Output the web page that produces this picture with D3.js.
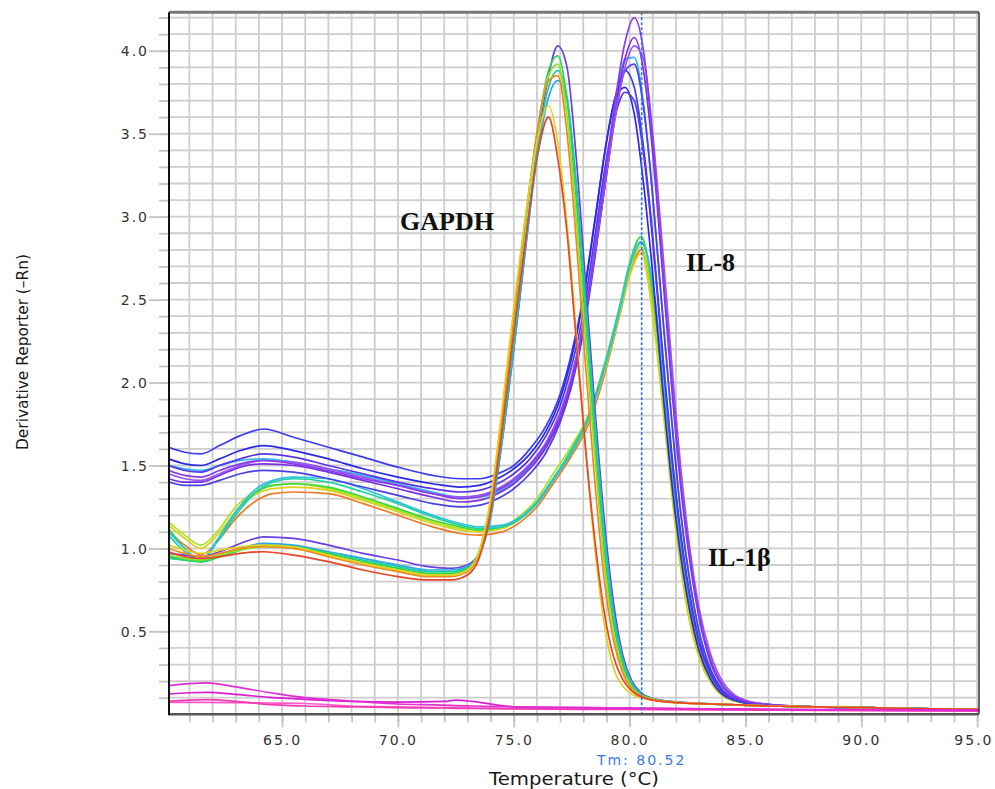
<!DOCTYPE html>
<html><head><meta charset="utf-8">
<script src="https://cdn.jsdelivr.net/npm/d3@7"></script>
<style>body{margin:0;background:#fff;} svg{display:block;}</style>
</head><body>
<svg id="chart" width="995" height="789"></svg>
<script>
// ---------- DATA ----------
const gapdhTemps = [60.1,60.8,61.5,62.3,63.2,64.2,65.5,67.0,68.5,70.0,71.3,72.3,73.0,73.5,74.0,74.5,75.0,75.5,76.0,76.5,76.9,77.3,77.7,78.1,78.5,78.9,79.3,79.7,80.1,80.5,81.0,82.0,84.0,86.0,88.0,90.0,92.0,95.1];
const gapdhRed    = [0.98,0.95,0.94,0.95,0.97,0.98,0.96,0.92,0.87,0.83,0.81,0.81,0.84,0.94,1.22,1.72,2.30,2.85,3.35,3.60,3.35,2.90,2.25,1.60,1.05,0.62,0.35,0.21,0.14,0.105,0.085,0.07,0.06,0.05,0.045,0.04,0.035,0.03];
const gapdhOrange = [1.00,0.97,0.95,0.97,1.00,1.01,1.00,0.95,0.90,0.86,0.83,0.83,0.86,0.97,1.28,1.80,2.40,2.98,3.50,3.82,3.85,3.50,2.85,2.10,1.40,0.82,0.45,0.25,0.15,0.11,0.088,0.072,0.06,0.05,0.045,0.04,0.035,0.03];
const gapdhYellow = [1.02,0.99,0.97,0.99,1.01,1.02,1.01,0.96,0.91,0.87,0.84,0.84,0.87,0.98,1.30,1.85,2.45,3.00,3.45,3.67,3.45,2.95,2.30,1.60,1.00,0.55,0.28,0.17,0.12,0.10,0.085,0.07,0.06,0.05,0.045,0.04,0.035,0.03];
const gapdhLime   = [0.96,0.94,0.93,0.96,0.99,1.01,1.00,0.96,0.91,0.87,0.84,0.84,0.87,0.97,1.26,1.78,2.38,2.97,3.50,3.85,3.92,3.60,2.98,2.25,1.55,0.92,0.50,0.27,0.16,0.115,0.09,0.072,0.06,0.05,0.045,0.04,0.035,0.03];
const gapdhGreen  = [0.95,0.93,0.92,0.95,0.99,1.02,1.01,0.97,0.92,0.88,0.85,0.85,0.88,0.98,1.25,1.75,2.35,2.95,3.50,3.88,3.97,3.70,3.10,2.38,1.65,1.00,0.55,0.30,0.17,0.12,0.09,0.072,0.06,0.05,0.045,0.04,0.035,0.03];
const gapdhTeal   = [0.94,0.93,0.92,0.95,0.99,1.02,1.01,0.97,0.93,0.89,0.86,0.86,0.88,0.96,1.20,1.68,2.25,2.85,3.40,3.78,3.88,3.72,3.18,2.45,1.72,1.08,0.60,0.32,0.18,0.12,0.092,0.073,0.06,0.05,0.045,0.04,0.035,0.03];
const gapdhCyan   = [0.95,0.94,0.93,0.96,1.00,1.03,1.02,0.98,0.94,0.90,0.87,0.87,0.89,0.96,1.18,1.65,2.20,2.80,3.35,3.72,3.82,3.70,3.20,2.50,1.78,1.12,0.63,0.34,0.19,0.125,0.093,0.074,0.06,0.05,0.045,0.04,0.035,0.03];
const gapdhPurple = [0.97,0.96,0.95,0.98,1.03,1.07,1.06,1.02,0.97,0.93,0.89,0.88,0.90,0.97,1.20,1.65,2.20,2.80,3.40,3.85,4.03,3.90,3.35,2.60,1.85,1.18,0.68,0.36,0.20,0.13,0.095,0.075,0.06,0.05,0.045,0.04,0.035,0.03];

const il8Temps = [60.1,60.8,61.5,62.3,63.2,64.2,65.5,67.0,68.5,70.0,71.5,72.7,73.5,74.3,75.0,75.7,76.4,77.0,77.5,78.0,78.5,79.0,79.4,79.8,80.2,80.6,81.0,81.4,81.8,82.2,82.6,83.0,83.5,84.0,84.5,85.0,86.0,88.0,90.0,92.0,95.1];
const il8A = [1.61,1.58,1.57,1.62,1.68,1.72,1.67,1.61,1.55,1.49,1.44,1.42,1.42,1.45,1.50,1.60,1.74,1.93,2.18,2.52,2.98,3.45,3.73,3.88,3.78,3.42,2.88,2.22,1.60,1.10,0.72,0.45,0.25,0.14,0.09,0.07,0.055,0.045,0.04,0.035,0.03];
const il8B = [1.54,1.51,1.50,1.54,1.59,1.62,1.59,1.54,1.48,1.43,1.39,1.37,1.38,1.42,1.48,1.57,1.71,1.90,2.15,2.50,2.97,3.45,3.72,3.78,3.62,3.20,2.65,2.00,1.42,0.96,0.62,0.38,0.21,0.12,0.085,0.068,0.055,0.045,0.04,0.035,0.03];
const il8C = [1.50,1.47,1.46,1.50,1.54,1.57,1.55,1.50,1.45,1.40,1.36,1.34,1.35,1.39,1.45,1.54,1.68,1.86,2.10,2.42,2.88,3.35,3.62,3.75,3.70,3.38,2.85,2.20,1.58,1.08,0.70,0.43,0.24,0.135,0.09,0.07,0.055,0.045,0.04,0.035,0.03];
const il8D = [1.47,1.44,1.43,1.47,1.51,1.53,1.51,1.47,1.42,1.38,1.33,1.30,1.31,1.35,1.41,1.50,1.63,1.80,2.02,2.35,2.80,3.30,3.72,4.05,4.20,4.00,3.45,2.75,2.05,1.42,0.95,0.60,0.33,0.18,0.11,0.08,0.06,0.045,0.04,0.035,0.03];
const il8E = [1.42,1.40,1.40,1.44,1.49,1.51,1.50,1.46,1.41,1.36,1.31,1.28,1.29,1.33,1.39,1.48,1.61,1.78,2.00,2.32,2.77,3.25,3.65,3.95,4.08,3.88,3.38,2.70,2.00,1.38,0.92,0.58,0.31,0.17,0.105,0.078,0.058,0.045,0.04,0.035,0.03];
const il8F = [1.45,1.42,1.41,1.45,1.50,1.53,1.52,1.48,1.43,1.38,1.33,1.31,1.32,1.36,1.42,1.51,1.64,1.82,2.04,2.35,2.78,3.25,3.62,3.90,4.03,3.95,3.50,2.85,2.15,1.50,1.00,0.64,0.36,0.20,0.12,0.085,0.06,0.045,0.04,0.035,0.03];
const il8G = [1.50,1.48,1.47,1.50,1.53,1.54,1.52,1.48,1.44,1.39,1.34,1.31,1.31,1.34,1.40,1.49,1.62,1.80,2.03,2.36,2.82,3.32,3.70,3.95,3.96,3.68,3.12,2.45,1.80,1.22,0.80,0.50,0.27,0.15,0.095,0.072,0.055,0.045,0.04,0.035,0.03];
const il8H = [1.40,1.38,1.38,1.41,1.45,1.47,1.46,1.42,1.37,1.32,1.27,1.25,1.26,1.30,1.36,1.45,1.58,1.76,1.98,2.30,2.75,3.25,3.62,3.88,3.92,3.66,3.12,2.45,1.80,1.22,0.80,0.50,0.27,0.15,0.095,0.072,0.055,0.045,0.04,0.035,0.03];

const il1bTemps = [60.1,60.8,61.5,62.2,63.0,63.8,64.6,65.5,67.0,68.5,70.0,71.5,72.7,73.5,74.5,75.3,76.0,76.7,77.5,78.2,78.9,79.6,80.0,80.5,81.0,81.5,82.0,82.5,83.0,83.5,84.0,84.5,85.0,86.0,88.0,90.0,92.0,95.1];
const il1bGreen  = [1.12,1.00,0.92,1.05,1.22,1.33,1.38,1.39,1.37,1.31,1.24,1.17,1.13,1.11,1.13,1.19,1.28,1.42,1.60,1.79,2.10,2.48,2.72,2.88,2.55,1.92,1.25,0.74,0.42,0.23,0.13,0.09,0.07,0.055,0.045,0.04,0.035,0.03];
const il1bLime   = [1.16,1.08,1.02,1.10,1.25,1.34,1.38,1.39,1.36,1.30,1.23,1.16,1.12,1.11,1.13,1.20,1.30,1.45,1.62,1.80,2.10,2.46,2.68,2.82,2.45,1.80,1.15,0.66,0.37,0.20,0.12,0.085,0.068,0.055,0.045,0.04,0.035,0.03];
const il1bYellow = [1.14,1.06,1.00,1.08,1.22,1.32,1.36,1.37,1.35,1.29,1.22,1.15,1.11,1.10,1.12,1.18,1.28,1.42,1.58,1.76,2.06,2.42,2.64,2.78,2.40,1.75,1.10,0.62,0.34,0.19,0.11,0.08,0.065,0.055,0.045,0.04,0.035,0.03];
const il1bOrange = [1.10,1.02,0.96,1.04,1.18,1.28,1.33,1.34,1.33,1.27,1.20,1.13,1.09,1.08,1.10,1.16,1.25,1.39,1.56,1.74,2.04,2.42,2.65,2.80,2.50,1.88,1.22,0.72,0.40,0.22,0.125,0.088,0.068,0.055,0.045,0.04,0.035,0.03];
const il1bCyan   = [1.10,1.00,0.93,1.05,1.22,1.35,1.41,1.43,1.42,1.36,1.28,1.20,1.15,1.13,1.14,1.19,1.28,1.42,1.59,1.78,2.08,2.46,2.70,2.85,2.60,1.98,1.30,0.78,0.44,0.24,0.135,0.095,0.072,0.055,0.045,0.04,0.035,0.03];
const il1bTeal   = [1.08,0.98,0.92,1.04,1.20,1.33,1.40,1.42,1.40,1.34,1.27,1.19,1.14,1.12,1.13,1.18,1.27,1.41,1.58,1.77,2.08,2.45,2.70,2.84,2.58,1.95,1.28,0.76,0.43,0.24,0.13,0.092,0.07,0.055,0.045,0.04,0.035,0.03];

const ntcTemps = [60.1,61.0,61.8,63.0,64.5,66.0,68.0,70.0,72.0,72.5,73.2,75.0,78.0,82.0,86.0,90.0,95.1];
const ntcA = [0.172,0.185,0.19,0.165,0.13,0.10,0.08,0.062,0.055,0.052,0.05,0.045,0.04,0.035,0.03,0.025,0.02];
const ntcB = [0.122,0.13,0.132,0.12,0.102,0.09,0.078,0.074,0.078,0.085,0.078,0.045,0.04,0.035,0.03,0.028,0.025];
const ntcC = [0.078,0.085,0.088,0.078,0.058,0.05,0.045,0.04,0.038,0.036,0.035,0.033,0.03,0.028,0.025,0.022,0.02];
const ntcD = [0.074,0.072,0.072,0.07,0.068,0.065,0.05,0.045,0.04,0.04,0.038,0.035,0.032,0.03,0.027,0.025,0.022];

const xTickValues = [65,70,75,80,85,90,95];
const xTickLabels = ["65.0","70.0","75.0","80.0","85.0","90.0","95.0"];
const yTickValues = [0.5,1.0,1.5,2.0,2.5,3.0,3.5,4.0];
const yTickLabels = ["0.5","1.0","1.5","2.0","2.5","3.0","3.5","4.0"];
const tmValue = 80.52;
const tmLabel = "Tm: 80.52";
const xTitle = "Temperature (°C)";
const yTitle = "Derivative Reporter (\u2013Rn)";
const targetLabels = ["GAPDH","IL-8","IL-1\u03b2"];

// ---------- SERIES TABLE ----------
const series = [
  {t: il1bTemps, v: il1bOrange, c:"#ee7a22"},
  {t: il1bTemps, v: il1bYellow, c:"#dcd01c"},
  {t: il1bTemps, v: il1bLime, c:"#aee21e"},
  {t: il1bTemps, v: il1bGreen, c:"#3cd83c"},
  {t: il1bTemps, v: il1bTeal, c:"#22d2a0"},
  {t: il1bTemps, v: il1bCyan, c:"#2cc0e4"},
  {t: il8Temps, v: il8G, c:"#30b4ea"},
  {t: il8Temps, v: il8A, c:"#3c3cf0"},
  {t: il8Temps, v: il8B, c:"#2a2ae6"},
  {t: il8Temps, v: il8C, c:"#5a34e8"},
  {t: il8Temps, v: il8H, c:"#4a40e6"},
  {t: il8Temps, v: il8E, c:"#7a2ee8"},
  {t: il8Temps, v: il8F, c:"#9a54f0"},
  {t: il8Temps, v: il8D, c:"#8a3cea"},
  {t: gapdhTemps, v: gapdhPurple, c:"#6a3ee6"},
  {t: gapdhTemps, v: gapdhCyan, c:"#2aa8e8"},
  {t: gapdhTemps, v: gapdhTeal, c:"#1ecaa8"},
  {t: gapdhTemps, v: gapdhGreen, c:"#28d850"},
  {t: gapdhTemps, v: gapdhLime, c:"#9ade2a"},
  {t: gapdhTemps, v: gapdhOrange, c:"#f08a20"},
  {t: gapdhTemps, v: gapdhYellow, c:"#e0d020"},
  {t: gapdhTemps, v: gapdhRed, c:"#e8452a"},
  {t: ntcTemps, v: ntcD, c:"#ff58c8"},
  {t: ntcTemps, v: ntcC, c:"#f03cb4"},
  {t: ntcTemps, v: ntcB, c:"#d81ed2"},
  {t: ntcTemps, v: ntcA, c:"#e22ed0"}
];

// ---------- CHART ----------
const svg = d3.select("#chart");
const L = 169, R = 979, T = 12.3, B = 714.3;
const x = d3.scaleLinear().domain([60.12, 95.08]).range([L, R]);
const y = d3.scaleLinear().domain([0, 4.232]).range([B, T]);

svg.append("defs").append("clipPath").attr("id","plotclip")
  .append("rect").attr("x",L).attr("y",T).attr("width",R-L).attr("height",B-T);

// grid
const grid = svg.append("g");
grid.selectAll("line.v").data(d3.range(61, 96)).join("line")
  .attr("x1", d=>x(d)).attr("x2", d=>x(d)).attr("y1", T).attr("y2", B)
  .attr("stroke","#cdcdcd").attr("stroke-width",1.8);
grid.selectAll("line.h").data(d3.range(1, 43).map(i=>i/10)).join("line")
  .attr("x1", L).attr("x2", R).attr("y1", d=>y(d)).attr("y2", d=>y(d))
  .attr("stroke","#cdcdcd").attr("stroke-width",1.8);

// minor ticks
const minorX = svg.append("g").attr("transform",`translate(0,${B})`)
  .call(d3.axisBottom(x).tickValues(d3.range(61,96)).tickSize(8).tickFormat(""));
const minorY = svg.append("g").attr("transform",`translate(${L},0)`)
  .call(d3.axisLeft(y).tickValues(d3.range(1,43).map(i=>i/10)).tickSize(10).tickFormat(""));
[minorX, minorY].forEach(g=>{ g.select(".domain").remove(); g.selectAll("line").attr("stroke","#c4c4c4").attr("stroke-width",1.8); });

// major axes
const xAxis = svg.append("g").attr("transform",`translate(0,${B})`)
  .call(d3.axisBottom(x).tickValues(xTickValues).tickSize(13).tickFormat((d,i)=>xTickLabels[i]));
xAxis.select(".domain").remove();
xAxis.selectAll("line").attr("stroke","#c4c4c4").attr("stroke-width",1.8);
xAxis.selectAll("text").attr("y",31).attr("dy",null)
  .attr("font-family","DejaVu Sans").attr("font-size",14).attr("fill","#333")
  .style("letter-spacing","2px");
// keep the last label inside the page
xAxis.selectAll("text").filter(d=>d===95).attr("text-anchor","end").attr("x", 993 - x(95));

const yAxis = svg.append("g").attr("transform",`translate(${L},0)`)
  .call(d3.axisLeft(y).tickValues(yTickValues).tickSize(20).tickFormat((d,i)=>yTickLabels[i]));
yAxis.select(".domain").remove();
yAxis.selectAll("line").attr("stroke","#c4c4c4").attr("stroke-width",1.8);
yAxis.selectAll("text").attr("x",-20).attr("dy","0.36em")
  .attr("font-family","DejaVu Sans").attr("font-size",14).attr("fill","#333")
  .style("letter-spacing","2px");

// curves
const line = d3.line().x(d=>x(d[0])).y(d=>y(d[1])).curve(d3.curveMonotoneX);
const curves = svg.append("g").attr("clip-path","url(#plotclip)");
series.forEach(s=>{
  curves.append("path").attr("d", line(s.t.map((t,i)=>[t, s.v[i]])))
    .attr("fill","none").attr("stroke", s.c).attr("stroke-width",1.7)
    .attr("stroke-linejoin","round");
});

// Tm line
svg.append("line").attr("x1",x(tmValue)).attr("x2",x(tmValue)).attr("y1",T).attr("y2",B)
  .attr("stroke","#2f6fe8").attr("stroke-width",1.6).attr("stroke-dasharray","3,2");

// frame
svg.append("line").attr("x1",L).attr("x2",R).attr("y1",T).attr("y2",T).attr("stroke","#777").attr("stroke-width",3);
svg.append("line").attr("x1",R).attr("x2",R).attr("y1",T).attr("y2",B).attr("stroke","#333").attr("stroke-width",1.5);
svg.append("line").attr("x1",L).attr("x2",R).attr("y1",B).attr("y2",B).attr("stroke","#555").attr("stroke-width",2.5);
svg.append("line").attr("x1",L).attr("x2",L).attr("y1",T).attr("y2",B+1).attr("stroke","#111").attr("stroke-width",2);

// texts
svg.append("text").attr("x",x(tmValue)).attr("y",765).attr("text-anchor","middle")
  .attr("font-family","DejaVu Sans").attr("font-size",14).attr("fill","#3a7ae8")
  .style("letter-spacing","2px").text(tmLabel);
svg.append("text").attr("x",(L+R)/2).attr("y",785).attr("text-anchor","middle")
  .attr("font-family","DejaVu Sans").attr("font-size",17).attr("fill","#1a1a1a")
  .attr("textLength",170).attr("lengthAdjust","spacingAndGlyphs").text(xTitle);
svg.append("text").attr("transform","translate(28,352) rotate(-90)").attr("text-anchor","middle")
  .attr("font-family","DejaVu Sans").attr("font-size",16).attr("fill","#1a1a1a")
  .attr("textLength",196).attr("lengthAdjust","spacingAndGlyphs").text(yTitle);

const labelPos = [[400,230],[686,271],[708,566]];
targetLabels.forEach((t,i)=>{
  svg.append("text").attr("x",labelPos[i][0]).attr("y",labelPos[i][1])
    .attr("font-family","Liberation Serif").attr("font-weight","bold").attr("font-size",26)
    .attr("fill","#111").text(t);
});
</script>
</body></html>
